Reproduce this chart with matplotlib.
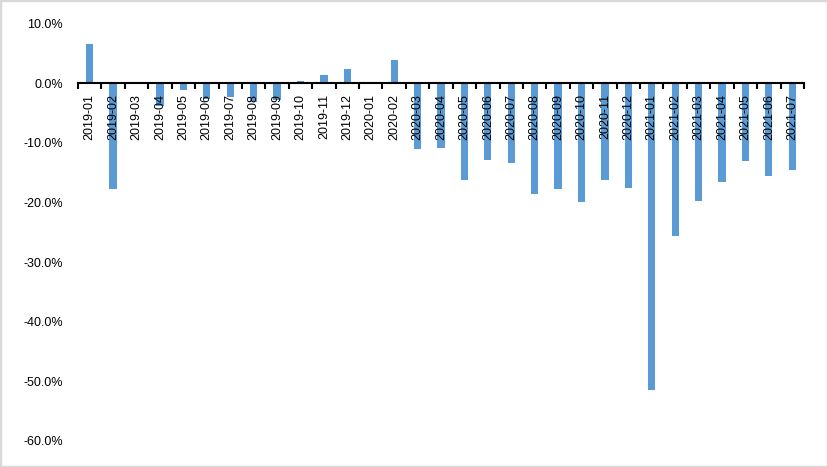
import matplotlib
matplotlib.use("Agg")
import matplotlib.pyplot as plt
from matplotlib.ticker import FuncFormatter, FixedLocator
from matplotlib.patches import Rectangle
import numpy as np

months = ["2019-01", "2019-02", "2019-03", "2019-04", "2019-05", "2019-06",
          "2019-07", "2019-08", "2019-09", "2019-10", "2019-11", "2019-12",
          "2020-01", "2020-02", "2020-03", "2020-04", "2020-05", "2020-06",
          "2020-07", "2020-08", "2020-09", "2020-10", "2020-11", "2020-12",
          "2021-01", "2021-02", "2021-03", "2021-04", "2021-05", "2021-06",
          "2021-07"]
# percent change
values = [6.6, -17.8, -0.2, -3.8, -1.1, -2.7,
          -2.3, -3.2, -2.8, 0.3, 1.3, 2.3,
          0.0, 3.9, -11.0, -10.9, -16.3, -12.9,
          -13.4, -18.6, -17.8, -19.9, -16.2, -17.6,
          -51.5, -25.6, -19.8, -16.6, -13.1, -15.6,
          -14.6]

plt.rcParams['font.family'] = ['Liberation Sans', 'DejaVu Sans']

fig = plt.figure(figsize=(8.28, 4.67), dpi=100)
ax = fig.add_axes([0.0942, 0.0557, 0.8768, 0.894])

x = np.arange(len(months))
ax.bar(x, values, width=0.31, color='#5B9BD5', zorder=1)

ax.set_xlim(-0.5, len(months) - 0.5)
ax.set_ylim(-60, 10)
ax.set_yticks(np.arange(-60, 11, 10))
ax.yaxis.set_major_formatter(FuncFormatter(lambda v, p: f"{v:.1f}%"))
ax.tick_params(axis='y', length=0, pad=11, labelsize=9)

for s in ['left', 'right', 'top']:
    ax.spines[s].set_visible(False)
ax.spines['bottom'].set_position(('data', 0))
ax.spines['bottom'].set_linewidth(1.5)
ax.spines['bottom'].set_zorder(3)

ax.set_xticks(x)
ax.set_xticklabels(months, rotation=90, fontsize=9, va='top', ha='center')
ax.xaxis.set_minor_locator(FixedLocator(np.arange(-0.5, len(months), 1)))
ax.tick_params(axis='x', which='major', length=0, pad=8)
ax.tick_params(axis='x', which='minor', length=4, width=1.5, direction='out')

fig.patches.append(Rectangle((0, 0), 1, 1, transform=fig.transFigure,
                             fill=False, edgecolor='#D9D9D9', linewidth=2.5))

fig.savefig("out.png", dpi=100)
